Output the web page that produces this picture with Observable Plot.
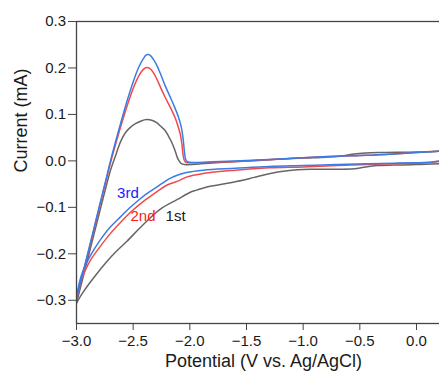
<!DOCTYPE html>
<html>
<head>
<meta charset="utf-8">
<script src="https://cdn.jsdelivr.net/npm/d3@7"></script>
<script src="https://cdn.jsdelivr.net/npm/@observablehq/plot@0.6"></script>
<style>
  html, body { margin: 0; padding: 0; background: #fff; overflow: hidden; }
  #chart svg { max-width: none !important; display: block; }
</style>
</head>
<body>
<div id="chart"></div>
<script>
// Tick values
const xTicks = [-3, -2.5, -2, -1.5, -1, -0.5, 0];
const yTicks = [-0.3, -0.2, -0.1, 0, 0.1, 0.2, 0.3];

// Cycle 1 (1st) forward (anodic) scan: [potential V, current mA]
const cycle1Forward = [[-3.00,-0.306],[-2.95,-0.258],[-2.90,-0.210],[-2.85,-0.162],[-2.80,-0.114],[-2.75,-0.066],[-2.70,-0.020],[-2.65,0.015],[-2.61,0.042],[-2.57,0.060],[-2.53,0.071],[-2.48,0.080],[-2.43,0.086],[-2.38,0.089],[-2.33,0.087],[-2.29,0.082],[-2.26,0.075],[-2.22,0.066],[-2.19,0.054],[-2.16,0.040],[-2.13,0.022],[-2.11,0.007],[-2.095,0.000],[-2.075,-0.006],[-2.05,-0.008],[-2.00,-0.008],[-1.90,-0.006],[-1.70,-0.003],[-1.40,0.001],[-1.00,0.006],[-0.80,0.008],[-0.64,0.011],[-0.55,0.015],[-0.45,0.017],[-0.29,0.018],[0.00,0.019],[0.20,0.021]];
// Cycle 1 reverse (cathodic) scan
const cycle1Reverse = [[0.20,-0.006],[0.00,-0.008],[-0.20,-0.009],[-0.35,-0.010],[-0.45,-0.013],[-0.55,-0.017],[-0.70,-0.018],[-0.94,-0.018],[-1.14,-0.021],[-1.29,-0.027],[-1.44,-0.036],[-1.58,-0.044],[-1.73,-0.051],[-1.85,-0.056],[-1.94,-0.063],[-2.00,-0.068],[-2.11,-0.083],[-2.26,-0.104],[-2.41,-0.137],[-2.555,-0.173],[-2.65,-0.195],[-2.73,-0.216],[-2.85,-0.252],[-2.94,-0.282],[-3.00,-0.306]];

// Cycle 2 (2nd)
const cycle2Forward = [[-3.00,-0.298],[-2.95,-0.250],[-2.90,-0.201],[-2.85,-0.152],[-2.80,-0.102],[-2.75,-0.053],[-2.70,-0.004],[-2.65,0.040],[-2.60,0.082],[-2.55,0.121],[-2.50,0.156],[-2.45,0.183],[-2.41,0.197],[-2.38,0.201],[-2.355,0.199],[-2.33,0.193],[-2.305,0.183],[-2.28,0.170],[-2.26,0.159],[-2.22,0.138],[-2.17,0.114],[-2.13,0.093],[-2.11,0.079],[-2.085,0.058],[-2.07,0.036],[-2.06,0.014],[-2.05,0.002],[-2.035,-0.003],[-2.00,-0.004],[-1.80,-0.003],[-1.50,0.000],[-1.20,0.004],[-1.00,0.007],[-0.70,0.010],[-0.44,0.012],[-0.20,0.015],[0.00,0.018],[0.20,0.021]];
const cycle2Reverse = [[0.20,-0.001],[0.10,-0.004],[0.00,-0.005],[-0.20,-0.006],[-0.44,-0.008],[-0.70,-0.010],[-1.00,-0.013],[-1.30,-0.015],[-1.60,-0.020],[-1.88,-0.027],[-2.03,-0.035],[-2.09,-0.042],[-2.20,-0.052],[-2.29,-0.066],[-2.37,-0.080],[-2.44,-0.093],[-2.53,-0.112],[-2.61,-0.132],[-2.70,-0.156],[-2.79,-0.184],[-2.88,-0.215],[-2.94,-0.245],[-2.975,-0.268],[-3.00,-0.298]];

// Cycle 3 (3rd)
const cycle3Forward = [[-3.00,-0.296],[-2.95,-0.247],[-2.90,-0.198],[-2.85,-0.149],[-2.80,-0.099],[-2.75,-0.050],[-2.70,0.000],[-2.65,0.046],[-2.60,0.090],[-2.55,0.132],[-2.50,0.170],[-2.45,0.202],[-2.41,0.220],[-2.385,0.228],[-2.365,0.229],[-2.345,0.226],[-2.32,0.218],[-2.29,0.205],[-2.26,0.188],[-2.22,0.163],[-2.17,0.136],[-2.13,0.113],[-2.10,0.094],[-2.075,0.072],[-2.058,0.045],[-2.047,0.018],[-2.038,0.004],[-2.025,-0.001],[-2.00,-0.003],[-1.80,-0.002],[-1.50,0.001],[-1.20,0.004],[-1.00,0.007],[-0.70,0.010],[-0.44,0.012],[-0.20,0.015],[0.00,0.018],[0.20,0.021]];
const cycle3Reverse = [[0.20,0.000],[0.10,-0.003],[0.00,-0.004],[-0.20,-0.005],[-0.44,-0.006],[-0.70,-0.008],[-1.00,-0.010],[-1.30,-0.012],[-1.60,-0.016],[-1.88,-0.020],[-2.03,-0.025],[-2.10,-0.030],[-2.17,-0.037],[-2.23,-0.046],[-2.29,-0.056],[-2.37,-0.069],[-2.44,-0.082],[-2.53,-0.101],[-2.61,-0.120],[-2.70,-0.142],[-2.79,-0.170],[-2.88,-0.205],[-2.94,-0.235],[-2.975,-0.262],[-3.00,-0.296]];

// Series labels
const labelNames = ["1st", "2nd", "3rd"];
const labelX = [-2.126, -2.413, -2.546];
const labelY = [-0.120, -0.120, -0.069];
const labelColors = ["#1a1a1a", "#ff1a1a", "#1a1aff"];
const lineColors = ["#666666", "#f24a4a", "#3a7be6"];

const series = [
  {name: "1st", fwd: cycle1Forward, rev: cycle1Reverse},
  {name: "2nd", fwd: cycle2Forward, rev: cycle2Reverse},
  {name: "3rd", fwd: cycle3Forward, rev: cycle3Reverse}
];

const lineMarks = [];
series.forEach((s, i) => {
  for (const branch of [s.fwd, s.rev]) {
    lineMarks.push(Plot.line(branch, {
      x: d => d[0], y: d => d[1],
      stroke: lineColors[i], strokeWidth: 1.5, curve: "catmull-rom", clip: true
    }));
  }
});

const textMarks = labelNames.map((n, i) => Plot.text([n], {
  x: () => labelX[i], y: () => labelY[i], text: d => d,
  fill: labelColors[i], fontSize: 15
}));

const fmt = d3.format(".1f");

const chart = Plot.plot({
  width: 450,
  height: 374,
  marginLeft: 76,
  marginRight: 0,
  marginTop: 21,
  marginBottom: 51,
  style: {fontFamily: "'Liberation Sans', Arial, sans-serif", fontSize: "15px", color: "#1a1a1a", background: "#fff", maxWidth: "none"},
  x: {domain: [-3, 0.3]},
  y: {domain: [-0.35, 0.3]},
  marks: [
    ...lineMarks,
    Plot.frame({stroke: "#444", strokeWidth: 1.3}),
    Plot.axisX({ticks: xTicks, tickSize: 7, tickPadding: 5, tickFormat: fmt, label: null, stroke: "#444", fontSize: 15}),
    Plot.axisY({ticks: yTicks, tickSize: 8, tickPadding: 2.5, tickFormat: fmt, label: null, stroke: "#444", fontSize: 15}),
    Plot.text(["Current (mA)"], {frameAnchor: "left", rotate: -90, dx: -55, fontSize: 18, fill: "#1a1a1a"}),
    Plot.text(["Potential (V vs. Ag/AgCl)"], {frameAnchor: "bottom", dy: 43.5, fontSize: 18, fill: "#1a1a1a"}),
    ...textMarks
  ]
});
document.getElementById("chart").appendChild(chart);
</script>
</body>
</html>
